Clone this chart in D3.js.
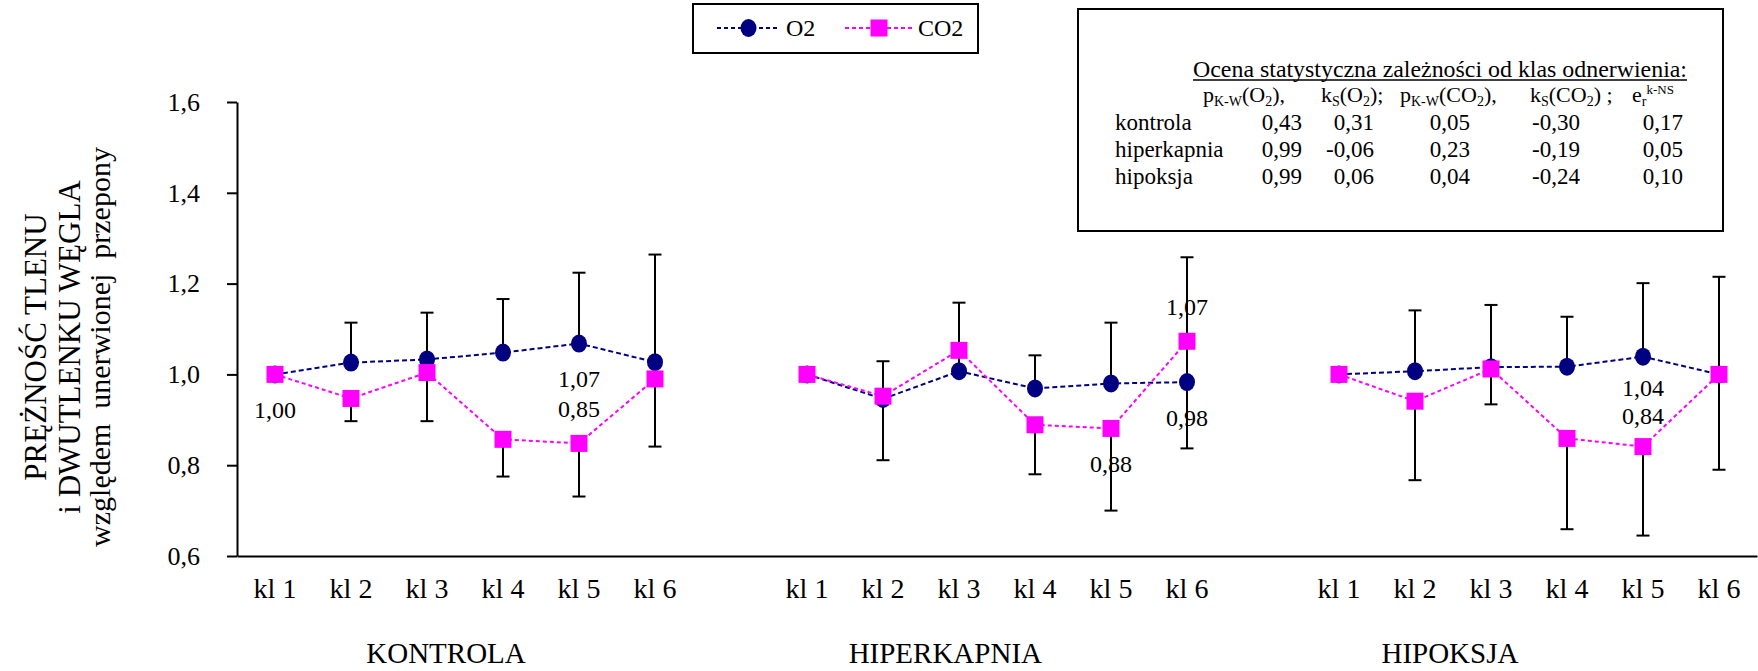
<!DOCTYPE html>
<html>
<head>
<meta charset="utf-8">
<script src="https://cdn.jsdelivr.net/npm/d3@7"></script>
<style>
  body { margin: 0; background: #fff; }
  text { font-family: "Liberation Serif", "Times New Roman", serif; fill: #000; }
</style>
</head>
<body>
<div id="chart"></div>
<script>
// data
const groups = ['KONTROLA', 'HIPERKAPNIA', 'HIPOKSJA'];
const classes = ['kl 1', 'kl 2', 'kl 3', 'kl 4', 'kl 5', 'kl 6'];
const o2 = [
  [1.00, 1.026, 1.033, 1.048, 1.068, 1.027],
  [1.00, 0.946, 1.007, 0.969, 0.980, 0.983],
  [1.00, 1.007, 1.016, 1.017, 1.039, 1.00]
];
const co2 = [
  [1.00, 0.947, 1.004, 0.857, 0.848, 0.990],
  [1.00, 0.952, 1.053, 0.889, 0.881, 1.073],
  [1.00, 0.941, 1.012, 0.859, 0.841, 1.00]
];
// O2 shows only the upper bar, CO2 only the lower one
const o2Err = [
  [0, 0.088, 0.103, 0.118, 0.156, 0.237],
  [0, 0.083, 0.151, 0.073, 0.134, 0.275],
  [0, 0.134, 0.137, 0.110, 0.162, 0.215]
];
const co2Err = [
  [0, 0.050, 0.107, 0.082, 0.117, 0.149],
  [0, 0.141, 0.050, 0.109, 0.181, 0.236],
  [0, 0.174, 0.078, 0.200, 0.196, 0.210]
];
const yTicks = [0.6, 0.8, 1.0, 1.2, 1.4, 1.6];
// which points get a value label: group, class index, series, side (+1 below, -1 above)
const valueLabels = [
  [0, 0, 'co2', 1], [0, 4, 'o2', 1], [0, 4, 'co2', -1],
  [1, 5, 'co2', -1], [1, 5, 'o2', 1], [1, 4, 'co2', 1],
  [2, 4, 'o2', 1], [2, 4, 'co2', -1]
];
const yLabelLines = ['PRĘŻNOŚĆ TLENU', 'i DWUTLENKU WĘGLA', 'względem  unerwionej  przepony'];

// stats box
const statTitle = 'Ocena statystyczna zależności od klas odnerwienia:';
const statRows = ['kontrola', 'hiperkapnia', 'hipoksja'];
const pKW_O2 = ['0,43', '0,99', '0,99'];
const kS_O2 = ['0,31', '-0,06', '0,06'];
const pKW_CO2 = ['0,05', '0,23', '0,04'];
const kS_CO2 = ['-0,30', '-0,19', '-0,24'];
const erKNS = ['0,17', '0,05', '0,10'];

const W = 1758, H = 671;
const navy = '#000080', magenta = '#ff00ff';
const fmt = v => v.toFixed(2).replace('.', ',');

const svg = d3.select('#chart').append('svg')
  .attr('width', W).attr('height', H);
svg.append('rect').attr('width', W).attr('height', H).attr('fill', '#fff');

// slots: 6 classes per group, one empty slot between groups
const slotKeys = [];
groups.forEach((g, gi) => {
  classes.forEach(c => slotKeys.push(g + '|' + c));
  if (gi < groups.length - 1) slotKeys.push('gap' + gi);
});
const x = d3.scaleBand().domain(slotKeys).range([237, 1757]).padding(0);
const cx = (gi, i) => x(groups[gi] + '|' + classes[i]) + x.bandwidth() / 2;
const y = d3.scaleLinear().domain([0.6, 1.6]).range([556, 102]);

// y axis
const yAxis = svg.append('g')
  .attr('transform', 'translate(237,0)')
  .call(d3.axisLeft(y).tickValues(yTicks).tickSize(10).tickSizeOuter(0).tickPadding(27)
    .tickFormat(d => d.toFixed(1).replace('.', ',')));
yAxis.selectAll('text').style('font-size', '26px').style('font-family', '"Liberation Serif", serif');
yAxis.selectAll('path, line').attr('stroke', '#000').attr('stroke-width', 2);

// x axis
const xAxis = svg.append('g')
  .attr('transform', 'translate(0,556)')
  .call(d3.axisBottom(x).tickSize(0).tickSizeOuter(0).tickPadding(22)
    .tickFormat(k => k.startsWith('gap') ? '' : k.split('|')[1]));
xAxis.selectAll('text').style('font-size', '28px').style('font-family', '"Liberation Serif", serif');
xAxis.select('path').attr('stroke', '#000').attr('stroke-width', 2);

// group labels
const groupOffset = [2.25, 1.82, 1.46];
svg.append('g').selectAll('text')
  .data(groups)
  .join('text')
  .attr('x', (g, gi) => cx(gi, 0) + groupOffset[gi] * x.bandwidth())
  .attr('y', 663)
  .attr('text-anchor', 'middle')
  .style('font-size', '29px')
  .text(d => d);

// y label
svg.append('g').selectAll('text')
  .data(yLabelLines)
  .join('text')
  .attr('transform', (d, i) => `translate(${[46, 80, 110][i]},347) rotate(-90)`)
  .attr('text-anchor', 'middle')
  .style('font-size', (d, i) => i < 2 ? '31px' : '30px')
  .style('white-space', 'pre')
  .text(d => d);

// error bars
const bars = [];
groups.forEach((g, gi) => classes.forEach((c, i) => {
  if (o2Err[gi][i] > 0) bars.push({ x: cx(gi, i), from: o2[gi][i], to: o2[gi][i] + o2Err[gi][i] });
  if (co2Err[gi][i] > 0) bars.push({ x: cx(gi, i), from: co2[gi][i], to: co2[gi][i] - co2Err[gi][i] });
}));
const barG = svg.append('g').attr('stroke', '#000').attr('stroke-width', 2);
barG.selectAll('line.v').data(bars).join('line').attr('class', 'v')
  .attr('x1', d => d.x).attr('x2', d => d.x)
  .attr('y1', d => y(d.from)).attr('y2', d => y(d.to));
barG.selectAll('line.cap').data(bars).join('line').attr('class', 'cap')
  .attr('x1', d => d.x - 6.5).attr('x2', d => d.x + 6.5)
  .attr('y1', d => y(d.to)).attr('y2', d => y(d.to));

// lines
const line = d3.line().x(d => d.x).y(d => y(d.v));
const pts = arr => arr.map((vals, gi) => vals.map((v, i) => ({ x: cx(gi, i), v })));
const o2Pts = pts(o2), co2Pts = pts(co2);

svg.append('g').selectAll('path').data(o2Pts).join('path')
  .attr('d', line).attr('fill', 'none').attr('stroke', navy)
  .attr('stroke-width', 2).attr('stroke-dasharray', '5,3');
svg.append('g').selectAll('path').data(co2Pts).join('path')
  .attr('d', line).attr('fill', 'none').attr('stroke', magenta)
  .attr('stroke-width', 2).attr('stroke-dasharray', '4,3');

svg.append('g').selectAll('ellipse').data(o2Pts.flat()).join('ellipse')
  .attr('cx', d => d.x).attr('cy', d => y(d.v)).attr('rx', 8).attr('ry', 9).attr('fill', navy);
svg.append('g').selectAll('rect').data(co2Pts.flat()).join('rect')
  .attr('x', d => d.x - 8.5).attr('y', d => y(d.v) - 8.5)
  .attr('width', 17).attr('height', 17).attr('fill', magenta);

// value labels (the hipoksja kl 5 pair sits a bit closer to its points)
const labelGap = d => (d[0] === 2 && d[1] === 4) ? 31 : 35;
svg.append('g').selectAll('text').data(valueLabels).join('text')
  .attr('x', d => cx(d[0], d[1]))
  .attr('y', d => y((d[2] === 'o2' ? o2 : co2)[d[0]][d[1]]) + d[3] * labelGap(d))
  .attr('dy', '0.35em')
  .attr('text-anchor', 'middle')
  .style('font-size', '24px')
  .text(d => fmt((d[2] === 'o2' ? o2 : co2)[d[0]][d[1]]));

// legend
const leg = svg.append('g');
leg.append('rect').attr('x', 693).attr('y', 4).attr('width', 285).attr('height', 49)
  .attr('fill', '#fff').attr('stroke', '#000').attr('stroke-width', 2);
const legItems = [
  { name: 'O2', color: navy, x1: 717, x2: 780, shape: 'circle', tx: 786 },
  { name: 'CO2', color: magenta, x1: 845, x2: 913, shape: 'square', tx: 918 }
];
legItems.forEach(it => {
  leg.append('line').attr('x1', it.x1).attr('x2', it.x2).attr('y1', 28).attr('y2', 28)
    .attr('stroke', it.color).attr('stroke-width', 2).attr('stroke-dasharray', '4,3');
  const mx = (it.x1 + it.x2) / 2;
  if (it.shape === 'circle') {
    leg.append('ellipse').attr('cx', mx).attr('cy', 28).attr('rx', 8).attr('ry', 9).attr('fill', it.color);
  } else {
    leg.append('rect').attr('x', mx - 8.5).attr('y', 19.5).attr('width', 17).attr('height', 17).attr('fill', it.color);
  }
  leg.append('text').attr('x', it.tx).attr('y', 28).attr('dy', '0.35em')
    .style('font-size', '24px').text(it.name);
});

// statistics box
const st = svg.append('g');
st.append('rect').attr('x', 1078).attr('y', 9).attr('width', 645).attr('height', 222)
  .attr('fill', '#fff').attr('stroke', '#000').attr('stroke-width', 2);
st.append('text').attr('x', 1193).attr('y', 77)
  .style('font-size', '24px').attr('textLength', 494).attr('lengthAdjust', 'spacingAndGlyphs')
  .text(statTitle);
st.append('line').attr('x1', 1193).attr('x2', 1687).attr('y1', 80).attr('y2', 80)
  .attr('stroke', '#000').attr('stroke-width', 1.5);

// header cells built from segments: [text, 'sub' | 'sup' | ''], each piece its own text
const headers = [
  { x: 1203, segs: [['p', ''], ['K-W', 'sub'], ['(O', ''], ['2', 'sub'], ['),', '']] },
  { x: 1321, segs: [['k', ''], ['S', 'sub'], ['(O', ''], ['2', 'sub'], [');', '']] },
  { x: 1400, segs: [['p', ''], ['K-W', 'sub'], ['(CO', ''], ['2', 'sub'], ['),', '']] },
  { x: 1530, segs: [['k', ''], ['S', 'sub'], ['(CO', ''], ['2', 'sub'], [') ;', '']] },
  { x: 1632, segs: [['e', ''], ['r', 'sub'], ['k-NS', 'sup']] }
];
const headY = 102;
headers.forEach(h => {
  let px = h.x;
  h.segs.forEach(([s, kind]) => {
    const t = st.append('text').attr('x', px)
      .attr('y', headY + (kind === 'sub' ? 4 : kind === 'sup' ? -8 : 0))
      .style('font-size', kind === 'sub' ? '14px' : kind === 'sup' ? '13px' : '22px')
      .style('white-space', 'pre').text(s);
    px += t.node().getComputedTextLength();
  });
});

const rowY = [130, 157, 184];
const cols = [pKW_O2, kS_O2, pKW_CO2, kS_CO2, erKNS];
const colRight = [1302, 1374, 1470, 1580, 1683];
statRows.forEach((r, ri) => {
  st.append('text').attr('x', 1115).attr('y', rowY[ri]).style('font-size', '23px').text(r);
  cols.forEach((col, ci) => {
    st.append('text').attr('x', colRight[ci]).attr('y', rowY[ri])
      .attr('text-anchor', 'end').style('font-size', '23px').text(col[ri]);
  });
});
</script>
</body>
</html>
